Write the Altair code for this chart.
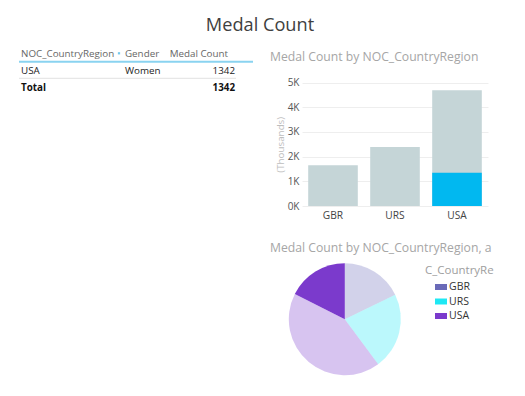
import altair as alt
import pandas as pd

FONT = "Open Sans"

# ---------------- data ----------------
title_text = "Medal Count"
table_columns = ["NOC_CountryRegion", "Gender", "Medal Count"]
table_row = ["USA", "Women", "1342"]
table_total = ["Total", "1342"]

bar_title = "Medal Count by NOC_CountryRegion"
countries = ["GBR", "URS", "USA"]
country_totals = [1650, 2390, 4690]
highlight_values = [None, None, 1342]  # USA / Women selection
y_ticks = [0, 1000, 2000, 3000, 4000, 5000]
y_axis_title = "(Thousands)"

pie_title = "Medal Count by NOC_CountryRegion, a"
legend_title = "C_CountryRe"
pie_countries = ["GBR", "URS", "USA", "USA"]
pie_highlight = [False, False, False, True]
pie_values = [1363, 1682, 3257, 1342]
legend_colors = ["#6A6AB8", "#1EE8F4", "#7B3ACC"]


def txt(s, x, y, size=11, color="#333333", weight="normal", align="left"):
    return alt.Chart(pd.DataFrame({"t": [s]})).mark_text(
        align=align, baseline="alphabetic", fontSize=size, color=color,
        fontWeight=weight, font=FONT
    ).encode(x=alt.value(x), y=alt.value(y), text="t:N")


def hline(x1, x2, y, color, width):
    return alt.Chart(pd.DataFrame({"a": [0]})).mark_rule(
        color=color, strokeWidth=width
    ).encode(x=alt.value(x1), x2=alt.value(x2), y=alt.value(y))


TS = 9.8  # table font size

# ---------------- title & table ----------------
layers = [
    txt(title_text, 252, 23, size=18.2, color="#404040", align="center"),
    txt(table_columns[0], 13, 48.7, size=TS, color="#666666"),
    txt(table_columns[1], 117, 48.7, size=TS, color="#666666"),
    txt(table_columns[2], 220, 48.7, size=TS, color="#666666", align="right"),
    alt.Chart(pd.DataFrame({"a": [0]})).mark_square(size=5, color="#3BB4E5").encode(
        x=alt.value(111), y=alt.value(45.3)),
    hline(11, 245, 53.7, "#8AD3F0", 2),
    txt(table_row[0], 13, 66.3, size=TS, color="#222222"),
    txt(table_row[1], 117, 66.3, size=TS, color="#222222"),
    txt(table_row[2], 227, 66.3, size=TS, color="#222222", align="right"),
    hline(11, 228, 70.3, "#E2E2E2", 1),
    txt(table_total[0], 13, 83, size=TS, color="#111111", weight="bold"),
    txt(table_total[1], 227, 83, size=TS, color="#111111", weight="bold", align="right"),
    txt(bar_title, 262, 52.7, size=12.2, color="#A6A6A6"),
    txt(pie_title, 262, 243.7, size=12.2, color="#A6A6A6"),
    txt(legend_title, 417, 266.3, size=11.5, color="#9E9E9E"),
]

# ---------------- bar chart ----------------
bar_df = pd.DataFrame({"country": countries, "total": country_totals})
hl_df = pd.DataFrame({
    "country": [c for c, v in zip(countries, highlight_values) if v is not None],
    "total": [v for v in highlight_values if v is not None],
})

x_enc = alt.X(
    "country:N", sort=countries,
    scale=alt.Scale(range=[294, 480], paddingInner=0.2, paddingOuter=0.1),
    axis=alt.Axis(orient="bottom", offset=-182, title=None, labelAngle=0,
                  ticks=False, tickSize=0, domain=False, grid=False,
                  labelPadding=12.7, labelBaseline="alphabetic",
                  labelFontSize=10.2, labelColor="#444444", labelFont=FONT),
)
y_enc = alt.Y(
    "total:Q",
    scale=alt.Scale(domain=[0, 5000], range=[198, 74.5], nice=False),
    axis=alt.Axis(orient="left", offset=-294, values=y_ticks,
                  labelExpr="datum.value / 1000 + 'K'",
                  ticks=False, tickSize=0, domain=False, grid=True,
                  gridColor="#EEEEEE", gridWidth=1,
                  labelPadding=3, labelFontSize=10, labelColor="#555555",
                  labelFont=FONT, title=y_axis_title, titleFont=FONT,
                  titleFontSize=9.8, titleFontWeight="normal", titleColor="#BDBDBD",
                  titleX=-22, titleBaseline="middle", titleAngle=270),
)
bars_bg = alt.Chart(bar_df).mark_bar(color="#C5D5D7").encode(x=x_enc, y=y_enc)
bars_hl = alt.Chart(hl_df).mark_bar(color="#01B8F0").encode(
    x=alt.X("country:N", sort=countries), y=alt.Y("total:Q"))
bar_part = alt.layer(bars_bg, bars_hl)

# ---------------- pie ----------------
pie_df = pd.DataFrame({
    "country": pie_countries, "value": pie_values,
    "hl": pie_highlight, "ord": list(range(len(pie_values))),
})
pie = alt.Chart(pie_df).mark_arc(outerRadius=56).encode(
    theta=alt.Theta("value:Q", stack=True),
    order=alt.Order("ord:Q"),
    color=alt.Color(
        "country:N",
        scale=alt.Scale(domain=countries, range=legend_colors),
        legend=alt.Legend(
            orient="none", legendX=427, legendY=273, title=None,
            symbolType="M-1,-0.5L1,-0.5L1,0.5L-1,0.5Z", symbolSize=144,
            symbolStrokeWidth=0, symbolOpacity=1,
            labelFontSize=10.5, labelColor="#333333", labelFont=FONT,
            labelOffset=2, rowPadding=2.5,
        ),
    ),
    opacity=alt.condition("datum.hl", alt.value(1.0), alt.value(0.3)),
    x=alt.value(336.8), y=alt.value(311.2),
)

chart = alt.layer(*layers, bar_part, pie).properties(
    width=509, height=380, autosize="none", padding=0, background="white"
).configure_view(stroke=None)

chart.save("out.html", embed_options={"renderer": "svg", "actions": False})
